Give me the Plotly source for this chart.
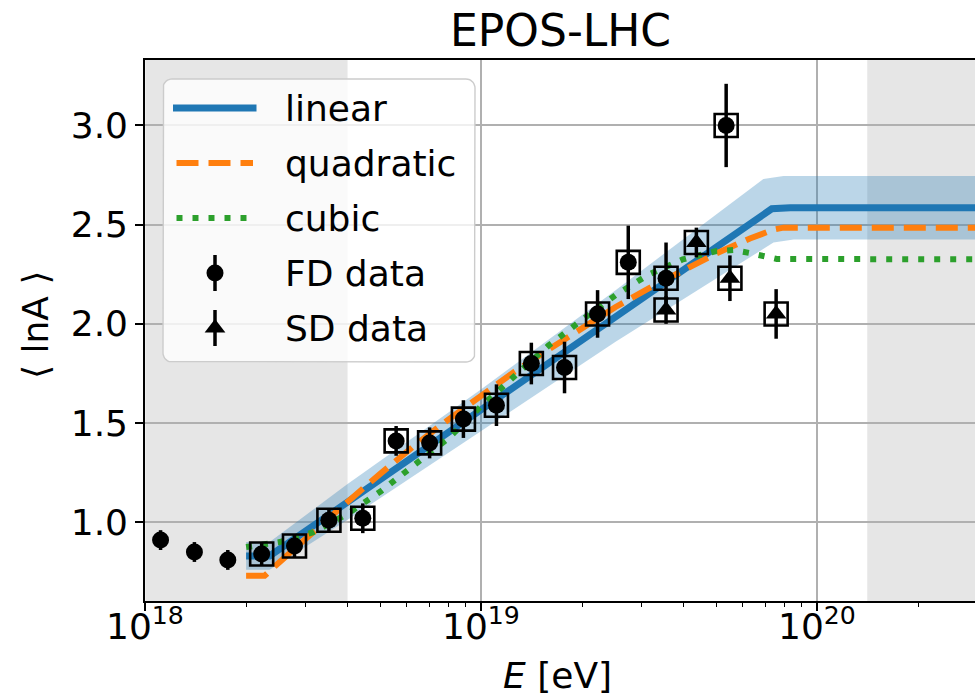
import numpy as np
import plotly.graph_objects as go

FONT = "DejaVu Sans"
BLUE, ORANGE, GREEN = "#1f77b4", "#ff7f0e", "#2ca02c"

# Fluorescence-detector points: energy [eV], <lnA>, uncertainty
fd_energy = [1.11e18, 1.40e18, 1.76e18, 2.22e18, 2.78e18, 3.52e18, 4.44e18, 5.58e18,
             7.02e18, 8.85e18, 1.11e19, 1.41e19, 1.77e19, 2.22e19, 2.74e19, 3.55e19, 5.36e19]
fd_lnA = [0.91, 0.85, 0.81, 0.84, 0.88, 1.01, 1.02, 1.41, 1.40, 1.52, 1.59, 1.80, 1.78,
          2.05, 2.31, 2.23, 3.00]
fd_err = [0.05, 0.05, 0.05, 0.06, 0.06, 0.06, 0.075, 0.075, 0.078, 0.095, 0.105, 0.105,
          0.13, 0.12, 0.185, 0.18, 0.21]
fd_in_fit = [False, False, False] + [True] * 14

# Surface-detector points
sd_energy = [3.55e19, 4.37e19, 5.50e19, 7.55e19]
sd_lnA = [2.07, 2.41, 2.23, 2.05]
sd_err = [0.07, 0.075, 0.115, 0.125]

# Fitted models, sampled in log10(E/eV)
lin_lgE = [18.30, 18.37, 19.865, 19.92, 20.6]
lin_lnA = [0.83, 0.83, 2.58, 2.585, 2.585]

quad_lgE = [18.30, 18.355, 18.40, 18.50, 18.60, 18.70, 18.80, 18.90, 19.00, 19.10, 19.20,
            19.30, 19.40, 19.50, 19.60, 19.70, 19.80, 19.87, 19.90, 20.6]
quad_lnA = [0.73, 0.73, 0.80, 0.955, 1.10, 1.245, 1.385, 1.515, 1.64, 1.76, 1.87,
            1.98, 2.085, 2.18, 2.27, 2.355, 2.43, 2.475, 2.485, 2.485]

cub_lgE = [18.30, 18.40, 18.50, 18.60, 18.70, 18.80, 18.90, 19.00, 19.10, 19.20, 19.30,
           19.40, 19.50, 19.60, 19.70, 19.75, 19.80, 19.85, 19.88, 20.6]
cub_lnA = [0.875, 0.90, 0.95, 1.04, 1.155, 1.285, 1.42, 1.585, 1.74, 1.89, 2.02,
           2.145, 2.25, 2.325, 2.367, 2.372, 2.357, 2.34, 2.327, 2.325]

# Uncertainty band of the linear model
band_up_lgE = [18.30, 18.37, 18.60, 19.00, 19.40, 19.84, 19.90, 20.6]
band_up = [0.90, 0.90, 1.19, 1.67, 2.17, 2.73, 2.745, 2.745]
band_lo_lgE = [18.30, 18.37, 18.60, 19.00, 19.40, 19.87, 19.93, 20.6]
band_lo = [0.76, 0.76, 1.01, 1.46, 1.91, 2.41, 2.425, 2.425]

# Energy ranges shaded grey
shaded_ranges = [(1e18, 4e18), (1.41e20, 1e21)]

# Major x ticks (decades) and their labels
x_tick_decades = [18, 19, 20]
x_tick_text = ["10<sup>18</sup>", "10<sup>19</sup>", "10<sup>20</sup>"]

# Frame geometry (pixels)
W, H = 975, 698
L, R, T, B = 145, 0, 60, 97
PX0, PX1, PY0, PY1 = L, W - R, T, H - B


def pow10(v):
    return [10.0 ** x for x in v]


fig = go.Figure()

for lo, hi in shaded_ranges:
    fig.add_shape(type="rect", xref="x", yref="paper", x0=lo, x1=hi, y0=0, y1=1,
                  fillcolor="rgba(128,128,128,0.2)", line_width=0, layer="below")

fig.add_trace(go.Scatter(
    x=pow10(band_up_lgE) + pow10(band_lo_lgE)[::-1], y=band_up + band_lo[::-1],
    fill="toself", fillcolor="rgba(31,119,180,0.3)", mode="lines",
    line=dict(width=0), hoverinfo="skip", showlegend=False))

fig.add_trace(go.Scatter(x=pow10(lin_lgE), y=lin_lnA, mode="lines",
                         line=dict(color=BLUE, width=7), showlegend=False))
fig.add_trace(go.Scatter(x=pow10(quad_lgE), y=quad_lnA, mode="lines",
                         line=dict(color=ORANGE, width=6, dash="22px,10px"), showlegend=False))
fig.add_trace(go.Scatter(x=pow10(cub_lgE), y=cub_lnA, mode="lines",
                         line=dict(color=GREEN, width=6, dash="6px,10px"), showlegend=False))

# open squares marking the points used in the fit
box_x = [e for e, f in zip(fd_energy, fd_in_fit) if f] + sd_energy
box_y = [v for v, f in zip(fd_lnA, fd_in_fit) if f] + sd_lnA
fig.add_trace(go.Scatter(x=box_x, y=box_y, mode="markers",
                         marker=dict(symbol="square-open", size=23, color="black",
                                     line=dict(width=2.6, color="black")),
                         showlegend=False))

fig.add_trace(go.Scatter(
    x=fd_energy, y=fd_lnA, mode="markers",
    marker=dict(symbol="circle", size=17, color="black"),
    error_y=dict(type="data", array=fd_err, thickness=3.5, width=0, color="black"),
    showlegend=False))
fig.add_trace(go.Scatter(
    x=sd_energy, y=sd_lnA, mode="markers",
    marker=dict(symbol="triangle-up", size=18, color="black"),
    error_y=dict(type="data", array=sd_err, thickness=3.5, width=0, color="black"),
    showlegend=False))

# ---- legend drawn on a pixel-scaled overlay subplot ----
def rounded_box(x0, y0, x1, y1, r, n=10):
    xs, ys = [], []
    for cx, cy, a0 in [(x1 - r, y0 + r, -90), (x1 - r, y1 - r, 0),
                       (x0 + r, y1 - r, 90), (x0 + r, y0 + r, 180)]:
        t = np.radians(np.linspace(a0, a0 + 90, n))
        xs += list(cx + r * np.cos(t))
        ys += list(cy + r * np.sin(t))
    return xs + xs[:1], ys + ys[:1]

bx, by = rounded_box(163, 79, 475, 362, 9)
fig.add_trace(go.Scatter(x=bx, y=by, xaxis="x2", yaxis="y2", mode="lines", fill="toself",
                         fillcolor="rgba(255,255,255,0.8)",
                         line=dict(color="rgb(204,204,204)", width=1.4),
                         hoverinfo="skip", showlegend=False))

rows = [108, 163, 218, 273, 328]
hx0, hx1 = 176.5, 253
fig.add_trace(go.Scatter(x=[hx0 - 3.5, hx1 + 3.5], y=[rows[0]] * 2, xaxis="x2", yaxis="y2",
                         mode="lines", line=dict(color=BLUE, width=7), showlegend=False))
fig.add_trace(go.Scatter(x=[hx0, hx1], y=[rows[1]] * 2, xaxis="x2", yaxis="y2",
                         mode="lines", line=dict(color=ORANGE, width=6, dash="22px,10px"),
                         showlegend=False))
fig.add_trace(go.Scatter(x=[hx0, hx1], y=[rows[2]] * 2, xaxis="x2", yaxis="y2",
                         mode="lines", line=dict(color=GREEN, width=6, dash="6px,10px"),
                         showlegend=False))
fig.add_trace(go.Scatter(x=[215], y=[rows[3]], xaxis="x2", yaxis="y2", mode="markers",
                         marker=dict(symbol="circle", size=17, color="black"),
                         error_y=dict(type="data", array=[18], thickness=3.5, width=0,
                                      color="black"), showlegend=False))
fig.add_trace(go.Scatter(x=[215], y=[rows[4]], xaxis="x2", yaxis="y2", mode="markers",
                         marker=dict(symbol="triangle-up", size=18, color="black"),
                         error_y=dict(type="data", array=[18], thickness=3.5, width=0,
                                      color="black"), showlegend=False))

labels = ["linear", "quadratic", "cubic", "FD data", "SD data"]
for txt, ry in zip(labels, rows):
    fig.add_annotation(text=txt, x=283, y=ry, xref="x2", yref="y2", xanchor="left",
                       yanchor="middle", showarrow=False,
                       font=dict(family=FONT, size=36, color="black"))

# ---- titles ----
def paper_x(px):
    return (px - PX0) / (PX1 - PX0)

def paper_y(py):
    return (PY1 - py) / (PY1 - PY0)

# decade labels under the x axis (annotation x on a log axis is log10 of the value)
for dec, txt in zip(x_tick_decades, x_tick_text):
    fig.add_annotation(text=txt, x=dec, y=paper_y(624), xref="x", yref="paper",
                       xanchor="center", yanchor="middle", showarrow=False,
                       font=dict(family=FONT, size=36, color="black"))

fig.add_annotation(text="EPOS-LHC", x=paper_x(560.5), y=paper_y(31), xref="paper",
                   yref="paper", xanchor="center", yanchor="middle", showarrow=False,
                   font=dict(family=FONT, size=44, color="black"))
fig.add_annotation(text="<i>E</i> [eV]", x=paper_x(557), y=paper_y(675), xref="paper",
                   yref="paper", xanchor="center", yanchor="middle", showarrow=False,
                   font=dict(family=FONT, size=36, color="black"))
fig.add_annotation(text="⟨ lnA ⟩", x=paper_x(35), y=paper_y(325), xref="paper",
                   yref="paper", xanchor="center", yanchor="middle", textangle=-90,
                   showarrow=False, font=dict(family=FONT, size=36, color="black"))

fig.update_layout(
    width=W, height=H,
    margin=dict(l=L, r=R, t=T, b=B, pad=0),
    paper_bgcolor="white", plot_bgcolor="rgba(0,0,0,0)",
    font=dict(family=FONT, size=36, color="black"),
    showlegend=False,
    xaxis=dict(type="log", range=[17.999, 20.47], tickvals=pow10(x_tick_decades),
               showticklabels=False,
               showgrid=True, gridcolor="#b0b0b0", gridwidth=1.6,
               showline=True, linecolor="black", linewidth=1.6, mirror=True,
               ticks="outside", ticklen=8, tickwidth=1.6, tickcolor="black",
               minor=dict(ticks="outside", ticklen=4.5, tickwidth=1.2, tickcolor="black",
                          dtick="D1", showgrid=False),
               zeroline=False),
    yaxis=dict(range=[0.603, 3.33], tick0=0, dtick=0.5, tickformat=".1f",
               showgrid=True, gridcolor="#b0b0b0", gridwidth=1.6,
               showline=True, linecolor="black", linewidth=1.6, mirror=False,
               ticks="outside", ticklen=8, tickwidth=1.6, tickcolor="black",
               tickfont=dict(family=FONT, size=36), zeroline=False),
    xaxis2=dict(domain=[0, 1], range=[PX0, PX1], anchor="y2", visible=False, fixedrange=True),
    yaxis2=dict(domain=[0, 1], range=[PY1, PY0], anchor="x2", visible=False, fixedrange=True),
)

fig.write_html("out.html")
